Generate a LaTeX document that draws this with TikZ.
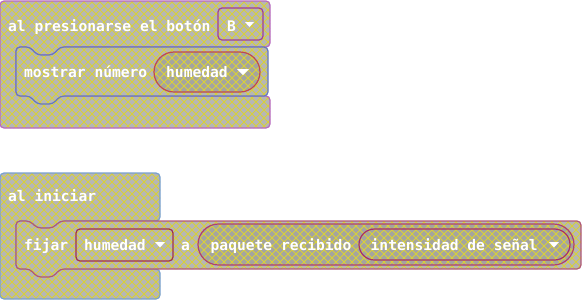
\documentclass[tikz,border=0pt]{standalone}
\usepackage{fontspec}
\setmonofont{DejaVu Sans Mono}
\begin{document}
\definecolor{blockgray}{HTML}{B6B6B6}
\definecolor{pillgray}{HTML}{A4A4A0}
\definecolor{hatchyellow}{HTML}{D8D038}
\definecolor{eventedge}{HTML}{B868C0}
\definecolor{ddedge}{HTML}{A03C9C}
\definecolor{showedge}{HTML}{6478C0}
\definecolor{humedge}{HTML}{C04850}
\definecolor{startedge}{HTML}{78A0D0}
\definecolor{setedge}{HTML}{B05878}
\definecolor{setddedge}{HTML}{A03050}
\definecolor{pktedge}{HTML}{B04070}
\definecolor{sigedge}{HTML}{A83068}
\begin{tikzpicture}[x=1pt,y=-1pt,
  hatch/.style={hatchyellow,line width=0.75pt},
  lbl/.style={inner sep=0pt,anchor=base west,text=white,
    font=\ttfamily\bfseries\fontsize{14.6}{16}\selectfont},
  caret/.style={fill=white}]
\useasboundingbox (0,0) rectangle (582,301);
% diagonal crosshatch over the whole canvas
\newcommand\hatchlines{%
  \foreach \k in {-40,...,112}{%
    \draw[hatch] ({\k*8},-2) -- ++(305,305);
    \draw[hatch] ({\k*8},-2) -- ++(-305,305);}}
% fill, hatch and outline one shape: #1 fill, #2 edge, #3 path
\newcommand\patched[3]{%
  \fill[#1] #3;
  \begin{scope}\clip #3; \hatchlines\end{scope}
  \draw[#2,line width=1.2pt] #3;}

% event block: al presionarse el boton
\patched{blockgray}{eventedge}{[rounded corners=4pt] (0,1) -- (270,1) -- (270,47) -- (60,47) -- (53,55) -- (37,55) -- (30,47) -- (16,47) -- (16,96) -- (270,96) -- (270,128) -- (0,128) -- cycle}
\patched{blockgray}{ddedge}{[rounded corners=4pt] (218,8) rectangle (263,40)}
\node[lbl] (evt) at (8,31) {al presionarse el botón};
\node[lbl] (btn) at (227,31) {B};
\fill[caret] (245,22) -- (254,22) -- (249.5,27) -- cycle;

% statement: mostrar numero
\patched{blockgray}{showedge}{[rounded corners=4pt] (16,47) -- (30,47) -- (37,55) -- (53,55) -- (60,47) -- (268,47) -- (268,96) -- (60,96) -- (53,104) -- (37,104) -- (30,96) -- (16,96) -- cycle}
\node[lbl] (show) at (24,77.5) {mostrar número};
\patched{pillgray}{humedge}{[rounded corners=20pt] (154,52) rectangle (260,92)}
\node[lbl] (hum1) at (166,77.5) {humedad};
\fill[caret] (237,69) -- (249,69) -- (243,75) -- cycle;

% event block: al iniciar
\patched{blockgray}{startedge}{[rounded corners=4pt] (0,173) -- (160,173) -- (160,221) -- (60,221) -- (53,228) -- (37,228) -- (30,221) -- (16,221) -- (16,269) -- (160,269) -- (160,299) -- (0,299) -- cycle}
\node[lbl] (start) at (8,201.5) {al iniciar};

% statement: fijar humedad a ...
\patched{blockgray}{setedge}{[rounded corners=4pt] (16,221) -- (30,221) -- (37,228) -- (53,228) -- (60,221) -- (581,221) -- (581,269) -- (60,269) -- (53,277) -- (37,277) -- (30,269) -- (16,269) -- cycle}
\node[lbl] (set) at (24,250) {fijar};
\patched{blockgray}{setddedge}{[rounded corners=4pt] (76,229) rectangle (173,261)}
\node[lbl] (hum2) at (84,250) {humedad};
\fill[caret] (155,242) -- (165,242) -- (160,247.5) -- cycle;
\node[lbl] (to) at (181,250) {a};
\patched{pillgray}{pktedge}{[rounded corners=20.5pt] (198,224) rectangle (574,265)}
\node[lbl] (pkt) at (210.5,250) {paquete recibido};
\patched{pillgray}{sigedge}{[rounded corners=15.5pt] (359,229) rectangle (570,260)}
\node[lbl] (sig) at (370.5,250) {intensidad de señal};
\fill[caret] (549,242) -- (559,242) -- (554,247.5) -- cycle;
\end{tikzpicture}
\end{document}
